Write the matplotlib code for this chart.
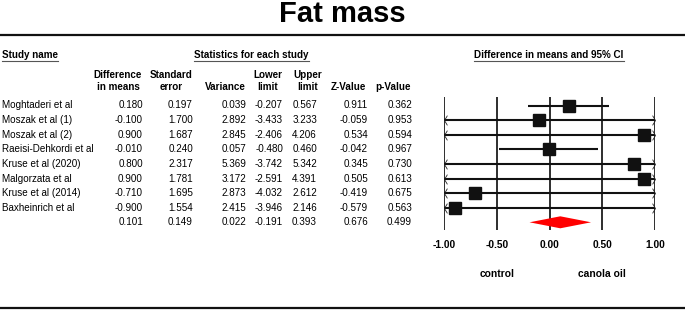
import matplotlib
matplotlib.use("Agg")
import matplotlib.pyplot as plt
import matplotlib.transforms as mtransforms
from matplotlib.lines import Line2D
from matplotlib.path import Path
import numpy as np

plt.rcParams['font.family'] = ['Liberation Sans', 'DejaVu Sans']

# ---------------- data ----------------
studies = ["Moghtaderi et al", "Moszak et al (1)", "Moszak et al (2)",
           "Raeisi-Dehkordi et al", "Kruse et al (2020)", "Malgorzata et al",
           "Kruse et al (2014)", "Baxheinrich et al"]
diff = [0.180, -0.100, 0.900, -0.010, 0.800, 0.900, -0.710, -0.900]
se = [0.197, 1.700, 1.687, 0.240, 2.317, 1.781, 1.695, 1.554]
variance = [0.039, 2.892, 2.845, 0.057, 5.369, 3.172, 2.873, 2.415]
lower = [-0.207, -3.433, -2.406, -0.480, -3.742, -2.591, -4.032, -3.946]
upper = [0.567, 3.233, 4.206, 0.460, 5.342, 4.391, 2.612, 2.146]
zval = [0.911, -0.059, 0.534, -0.042, 0.345, 0.505, -0.419, -0.579]
pval = [0.362, 0.953, 0.594, 0.967, 0.730, 0.613, 0.675, 0.563]
summary = {"diff": 0.101, "se": 0.149, "var": 0.022, "lower": -0.191,
           "upper": 0.393, "z": 0.676, "p": 0.499}
xticks = [-1.0, -0.5, 0.0, 0.5, 1.0]
xlabels = ["-1.00", "-0.50", "0.00", "0.50", "1.00"]
title = "Fat mass"
left_label = "control"
right_label = "canola oil"

# ---------------- layout ----------------
W, H = 685, 311
fig = plt.figure(figsize=(W / 100, H / 100), dpi=100)


def fx(x):
    return x / W


def fy(y):
    return 1 - y / H


ROW0, ROWSTEP = 105.5, 14.6
ax_top, ax_bot = 97.0, 230.0
ax_l, ax_r = 444.3, 655.0
ax = fig.add_axes([fx(ax_l), fy(ax_bot), (ax_r - ax_l) / W, (ax_bot - ax_top) / H])
ax.set_xlim(-1, 1)
ax.set_ylim((ax_bot - ROW0) / ROWSTEP, (ax_top - ROW0) / ROWSTEP)
for s in ax.spines.values():
    s.set_visible(False)
ax.set_yticks([])
ax.set_xticks(xticks)
ax.set_xticklabels(xlabels, fontsize=7.4, fontweight='bold')
ax.tick_params(axis='x', length=0, pad=7)

for t in xticks:
    ax.axvline(t, color='black', lw=1.15, zorder=1)

lo_lim, hi_lim = ax.get_xlim()
larrow = Path([(0.6, 1), (0, 0), (0.6, -1)], [Path.MOVETO, Path.LINETO, Path.LINETO])
rarrow = Path([(-0.6, 1), (0, 0), (-0.6, -1)], [Path.MOVETO, Path.LINETO, Path.LINETO])
for i, (d, lo, hi) in enumerate(zip(diff, lower, upper)):
    a = max(lo, lo_lim)
    b = min(hi, hi_lim)
    ax.plot([a, b], [i, i], color='#111111', lw=1.5, zorder=2, solid_capstyle='butt')
    if lo < lo_lim:
        ax.plot([lo_lim], [i], marker=larrow, ms=7, mfc='none', mec='#222222', mew=0.6, zorder=3)
    if hi > hi_lim:
        ax.plot([hi_lim], [i], marker=rarrow, ms=7, mfc='none', mec='#222222', mew=0.6, zorder=3)
    ax.plot([d], [i], marker='s', ms=8.6, color='#111111', zorder=4)

# summary diamond
ys = len(studies)
h = 6.0 / ROWSTEP
ax.fill([summary["lower"], summary["diff"], summary["upper"], summary["diff"]],
        [ys, ys - h, ys, ys + h], color='#ff0000', lw=0, zorder=4)

# bottom labels
bt = mtransforms.blended_transform_factory(ax.transData, fig.transFigure)
ax.text(-0.5, fy(274.3), left_label, transform=bt, ha='center', va='center',
        fontsize=7.4, fontweight='bold')
ax.text(0.5, fy(274.3), right_label, transform=bt, ha='center', va='center',
        fontsize=7.4, fontweight='bold')

# ---------------- table ----------------
rt = mtransforms.blended_transform_factory(fig.transFigure, ax.transData)
FS = 7.1
col_right = [143, 193, 246, 283, 317, 368, 412]
cols = [diff, se, variance, lower, upper, zval, pval]
for i, name in enumerate(studies):
    fig.text(fx(2), i, name, transform=rt, ha='left', va='center', fontsize=FS)
    for xr, col in zip(col_right, cols):
        fig.text(fx(xr), i, f"{col[i]:.3f}", transform=rt, ha='right', va='center', fontsize=FS)
sum_vals = [summary["diff"], summary["se"], summary["var"], summary["lower"],
            summary["upper"], summary["z"], summary["p"]]
for xr, v in zip(col_right, sum_vals):
    fig.text(fx(xr), ys, f"{v:.3f}", transform=rt, ha='right', va='center', fontsize=FS)

# column headers
headers = [("Difference", "in means", 118), ("Standard", "error", 171),
           ("", "Variance", 225), ("Lower", "limit", 267.5), ("Upper", "limit", 307.5),
           ("", "Z-Value", 348.5), ("", "p-Value", 393.5)]
for top, bot, xc in headers:
    if top:
        fig.text(fx(xc), fy(75), top, ha='center', va='center', fontsize=FS, fontweight='bold')
    fig.text(fx(xc), fy(87), bot, ha='center', va='center', fontsize=FS, fontweight='bold')

# section headers
sec = [fig.text(fx(2), fy(55.5), "Study name", ha='left', va='center', fontsize=FS, fontweight='bold'),
       fig.text(fx(251.7), fy(55.5), "Statistics for each study", ha='center', va='center',
                fontsize=FS, fontweight='bold'),
       fig.text(fx(549), fy(55.5), "Difference in means and 95% CI", ha='center', va='center',
                fontsize=FS, fontweight='bold')]

# title and rules
fig.text(fx(342), fy(22), title, ha='center', va='baseline', fontsize=21, fontweight='bold')
fig.add_artist(Line2D([0, 1], [fy(34.5), fy(34.5)], transform=fig.transFigure, color='#111111', lw=1.6))
fig.add_artist(Line2D([0, 1], [fy(308.3), fy(308.3)], transform=fig.transFigure, color='#111111', lw=1.6))

# underlines
fig.canvas.draw()
r = fig.canvas.get_renderer()
for t in sec:
    bb = t.get_window_extent(renderer=r)
    x0, x1 = bb.x0 / W, bb.x1 / W
    yy = fy(61.3)
    fig.add_artist(Line2D([x0, x1], [yy, yy], transform=fig.transFigure, color='#555555', lw=0.8))

fig.savefig("out.png", dpi=100)
